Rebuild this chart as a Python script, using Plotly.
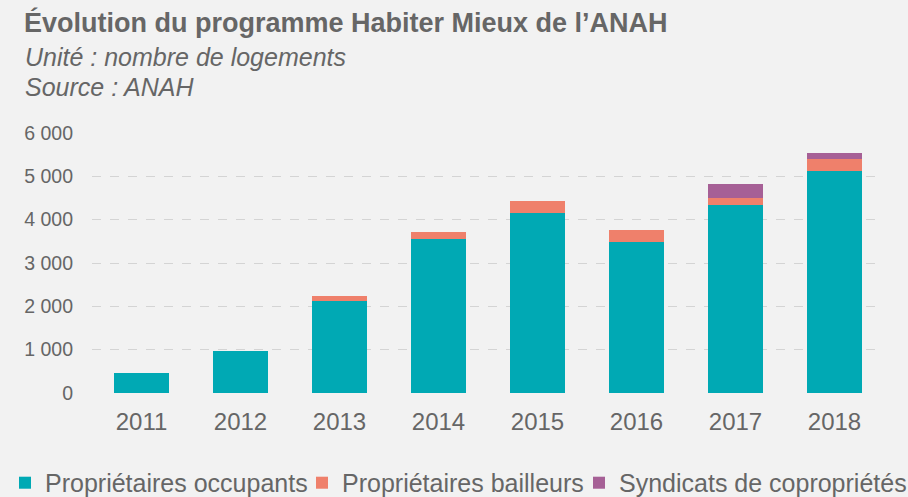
import plotly.graph_objects as go

years = ["2011", "2012", "2013", "2014", "2015", "2016", "2017", "2018"]
proprietaires_occupants = [460, 960, 2130, 3560, 4160, 3490, 4330, 5130]
proprietaires_bailleurs = [0, 0, 115, 150, 280, 280, 160, 280]
syndicats_coproprietes = [0, 0, 0, 0, 0, 0, 340, 130]
y_ticks = [0, 1000, 2000, 3000, 4000, 5000, 6000]

series = [
    ("Propriétaires occupants", proprietaires_occupants, "#00a9b4", "legend", 5),
    ("Propriétaires bailleurs", proprietaires_bailleurs, "#ef806b", "legend2", 302),
    ("Syndicats de copropriétés", syndicats_coproprietes, "#a66096", "legend3", 579),
]

FONT = "Liberation Sans, Arial, sans-serif"
GRAY = "#666666"
W, H = 908, 497

fig = go.Figure()
legend_layouts = {}
for name, vals, col, leg, xpx in series:
    fig.add_trace(go.Bar(
        x=years, y=vals, name=name,
        marker=dict(color=col, line=dict(width=0)),
        width=0.555, legend=leg,
    ))
    legend_layouts[leg] = dict(
        orientation="h",
        xref="container", yref="paper",
        x=xpx / W, y=-0.346, xanchor="left", yanchor="middle",
        font=dict(size=25, color=GRAY, family=FONT),
        bgcolor="rgba(0,0,0,0)",
    )

fig.update_layout(
    barmode="stack",
    width=W, height=H,
    paper_bgcolor="#f2f2f2", plot_bgcolor="#f2f2f2",
    margin=dict(l=92, r=24, t=133, b=104, autoexpand=False),
    separators=", ",
    font=dict(family=FONT, color=GRAY),
    showlegend=True,
    xaxis=dict(
        showgrid=False, zeroline=False, showline=False,
        tickfont=dict(size=24, color=GRAY),
        ticks="", ticklabelstandoff=12,
    ),
    yaxis=dict(
        range=[0, 6000],
        tickvals=y_ticks,
        tickformat=",d",
        showgrid=True, gridcolor="#d4d4d4", griddash="dash", gridwidth=1,
        zeroline=False, showline=False,
        tickfont=dict(size=19.5, color=GRAY),
        ticks="", ticklabelstandoff=18,
    ),
    **legend_layouts,
)

def add_text(txt, x_px, y_px, size, italic=False, bold=False):
    t = txt
    if bold:
        t = "<b>" + t + "</b>"
    if italic:
        t = "<i>" + t + "</i>"
    fig.add_annotation(
        text=t, showarrow=False,
        xref="paper", yref="paper",
        x=(x_px - 92) / (W - 92 - 24),
        y=1 + (133 - y_px) / (H - 133 - 104),
        xanchor="left", yanchor="middle",
        font=dict(size=size, color=GRAY, family=FONT),
    )

add_text("Évolution du programme Habiter Mieux de l’ANAH", 22, 23, 27, bold=True)
add_text("Unité : nombre de logements", 23, 57, 25, italic=True)
add_text("Source : ANAH", 23, 87, 25, italic=True)

fig.write_html("out.html", config={"displayModeBar": False},
               post_script="document.body.style.margin='0px';")
